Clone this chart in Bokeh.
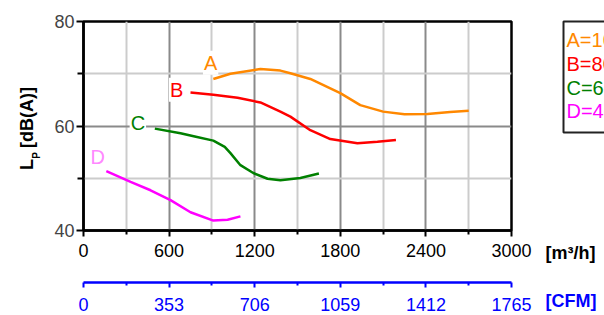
import math
from bokeh.plotting import figure
from bokeh.layouts import row
from bokeh.models import Range1d, LinearAxis, FixedTicker, Label
from bokeh.core.properties import value
from bokeh.embed import file_html
from bokeh.resources import INLINE

# ---- data ----
flow_ticks = [0, 600, 1200, 1800, 2400, 3000]
flow_minor = [300, 900, 1500, 2100, 2700]
cfm_labels = ["0", "353", "706", "1059", "1412", "1765"]
lp_ticks = [40, 60, 80]
lp_minor = [50, 70]

a_x = [910, 1030, 1240, 1380, 1450, 1590, 1800, 1940, 2100, 2250, 2410, 2570, 2700]
a_y = [69.0, 70.0, 70.9, 70.6, 70.1, 69.0, 66.3, 64.0, 62.75, 62.25, 62.3, 62.7, 62.9]
b_x = [750, 910, 1080, 1240, 1380, 1450, 1590, 1730, 1920, 2060, 2190]
b_y = [66.4, 66.0, 65.4, 64.5, 62.75, 61.8, 59.2, 57.5, 56.7, 57.0, 57.3]
c_x = [500, 680, 780, 910, 990, 1030, 1100, 1190, 1290, 1380, 1520, 1650]
c_y = [59.5, 58.6, 58.0, 57.2, 56.0, 54.8, 52.5, 51.0, 49.9, 49.6, 50.05, 50.9]
d_x = [160, 330, 470, 610, 750, 910, 1010, 1100]
d_y = [51.35, 49.3, 47.7, 45.8, 43.5, 41.9, 42.05, 42.7]

curve_names = ["A", "B", "C", "D"]
legend_texts = ["A=100%", "B=80%", "C=60%", "D=40%"]
colors = ["#ff8800", "#ff0000", "#008000", "#ff00ff"]
label_colors = ["#ff8800", "#ff0000", "#008000", "#ff88ff"]

FONT = "Liberation Sans"
H = 315

# ---------------- main plot ----------------
p = figure(width=495, height=H, x_range=Range1d(0, 3000), y_range=Range1d(40, 80),
           output_backend="svg", toolbar_location=None, frame_align=False,
           min_border_left=38, min_border_right=29, min_border_top=21, min_border_bottom=85)
p.background_fill_color = "white"
p.border_fill_color = "white"
p.outline_line_color = "black"
p.outline_line_width = 2.5

xa = p.xaxis[0]
xa.ticker = FixedTicker(ticks=flow_ticks, minor_ticks=flow_minor)
xa.axis_line_width = 2.5
xa.axis_line_color = "black"
xa.major_tick_out = 6
xa.major_tick_in = 0
xa.minor_tick_out = 4
xa.minor_tick_in = 0
xa.major_tick_line_width = 2
xa.minor_tick_line_width = 2
xa.major_label_text_font = FONT
xa.major_label_text_font_size = "18px"
xa.major_label_text_color = "black"
xa.major_label_standoff = 7
xa.axis_label = " "
xa.axis_label_text_font_size = "13px"
xa.axis_label_standoff = 5

ya = p.yaxis[0]
ya.ticker = FixedTicker(ticks=lp_ticks, minor_ticks=lp_minor)
ya.axis_line_width = 2.5
ya.axis_line_color = "black"
ya.major_tick_out = 7
ya.major_tick_in = 0
ya.minor_tick_out = 6
ya.minor_tick_in = 0
ya.major_tick_line_width = 2
ya.minor_tick_line_width = 2
ya.major_label_text_font = FONT
ya.major_label_text_font_size = "18px"
ya.major_label_standoff = 2

for g in (p.xgrid[0], p.ygrid[0]):
    g.grid_line_color = "#8a8a8a"
    g.grid_line_width = 2
    g.minor_grid_line_color = "#cccccc"
    g.minor_grid_line_width = 2

p.extra_x_ranges = {"cfm": Range1d(0, 3000)}
cfm = LinearAxis(x_range_name="cfm",
                 ticker=FixedTicker(ticks=flow_ticks, minor_ticks=flow_minor),
                 major_label_overrides={t: s for t, s in zip(flow_ticks, cfm_labels)})
cfm.axis_line_color = "#0000ff"
cfm.axis_line_width = 2.5
cfm.major_tick_line_color = "#0000ff"
cfm.minor_tick_line_color = "#0000ff"
cfm.major_tick_line_width = 2
cfm.minor_tick_line_width = 2
cfm.major_tick_out = 5
cfm.major_tick_in = 0
cfm.minor_tick_out = 3
cfm.minor_tick_in = 0
cfm.major_label_text_color = "#0000ff"
cfm.major_label_text_font = FONT
cfm.major_label_text_font_size = "18px"
cfm.major_label_standoff = 10
p.add_layout(cfm, "below")

for xs, ys, c in zip([a_x, b_x, c_x, d_x], [a_y, b_y, c_y, d_y], colors):
    p.line(xs, ys, line_color=c, line_width=2.5)

label_pos = [(891, 72.1), (653, 66.96), (381, 60.5), (100, 54.0)]
for name, (lx, ly), c in zip(curve_names, label_pos, label_colors):
    p.add_layout(Label(x=lx, y=ly, text=name, text_color=c, text_font=FONT,
                       text_font_size="20px", text_align="center", text_baseline="middle",
                       background_fill_color="white", padding=1))

# ---------------- side strips (frame = whole strip, page-pixel coordinates) ----------------
def strip(width, x0):
    f = figure(width=width, height=H, x_range=Range1d(x0, x0 + width), y_range=Range1d(H, 0),
               output_backend="svg", toolbar_location=None, frame_align=False,
               x_axis_type=None, y_axis_type=None, min_border=0)
    f.outline_line_color = None
    f.background_fill_color = "white"
    f.border_fill_color = "white"
    f.xgrid.visible = False
    f.ygrid.visible = False
    return f

left = strip(45, 0)
left.text(x=[26], y=[164], text=["L"], angle=math.pi / 2, text_font=value(FONT),
          text_font_style="bold", text_font_size="18px", text_align="center",
          text_baseline="middle", text_color="black")
left.text(x=[36], y=[155], text=["P"], angle=math.pi / 2, text_font=value(FONT),
          text_font_style="bold", text_font_size="10px", text_align="center",
          text_baseline="middle", text_color="black")
left.text(x=[26], y=[117], text=["[dB(A)]"], angle=math.pi / 2, text_font=value(FONT),
          text_font_style="bold", text_font_size="18px", text_align="center",
          text_baseline="middle", text_color="black")

right = strip(64, 540)
right.quad(left=[563], right=[660], top=[21], bottom=[132], fill_color="white",
           line_color="#222222", line_width=2)
right.text(x=[566] * 4, y=[39.5, 63, 87, 110.5], text=legend_texts, text_color=colors,
           text_font=value(FONT), text_font_size="20px", text_align="left",
           text_baseline="middle")
right.text(x=[545], y=[252], text=["[m³/h]"], text_font=value(FONT), text_font_style="bold",
           text_font_size="18px", text_baseline="middle", text_color="black")
right.text(x=[545], y=[300], text=["[CFM]"], text_font=value(FONT), text_font_style="bold",
           text_font_size="18px", text_baseline="middle", text_color="#0000ff")

layout = row(left, p, right, spacing=0)
open("out.html", "w").write(file_html(layout, INLINE))
